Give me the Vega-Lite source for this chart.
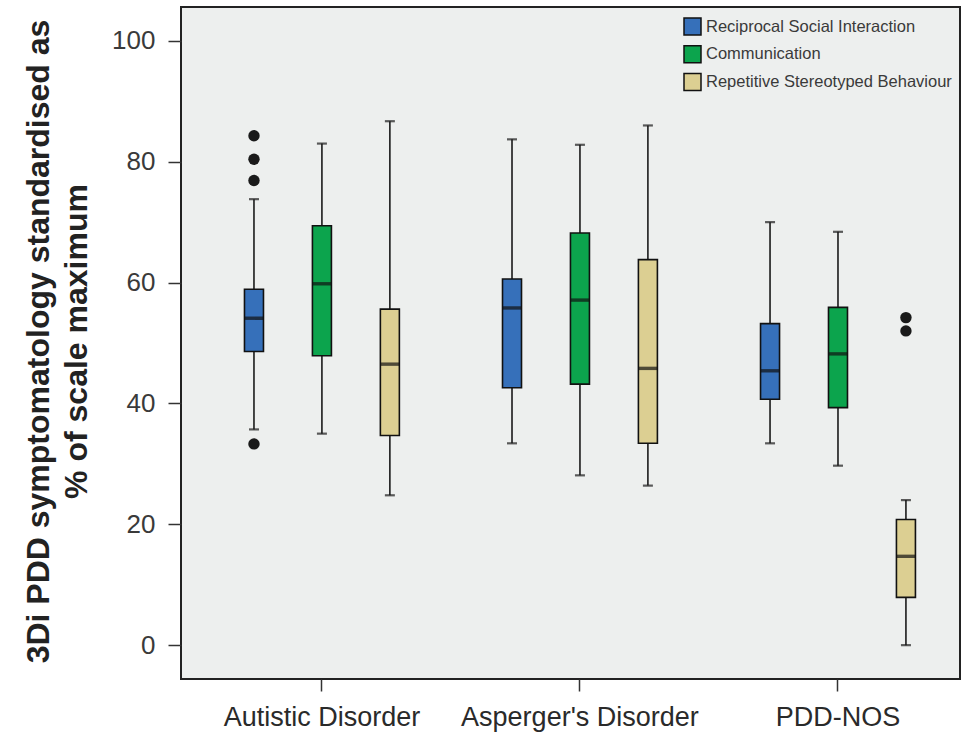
{
  "$schema": "https://vega.github.io/schema/vega-lite/v6.json",
  "width": 779,
  "height": 672,
  "autosize": {"type": "none"},
  "padding": {"left": 181, "top": 7, "right": 2, "bottom": 60},
  "background": "#ffffff",
  "config": {
    "font": "Liberation Sans",
    "view": {"fill": "#EDEFEE", "stroke": "#222222", "strokeWidth": 2},
    "axisY": {
      "grid": false,
      "domain": false,
      "tickSize": 13,
      "tickWidth": 1.5,
      "tickColor": "#333333",
      "labelFontSize": 26,
      "labelColor": "#3a3a3a",
      "labelPadding": 13,
      "titleFontSize": 32,
      "titleFontWeight": "bold",
      "titleColor": "#222222",
      "titleLineHeight": 38,
      "titleAngle": 270,
      "titleAlign": "center",
      "titleBaseline": "bottom",
      "titleX": -126,
      "titleY": 334,
      "titleLimit": 900
    },
    "axisX": {
      "grid": false,
      "domain": false,
      "tickSize": 12,
      "tickWidth": 1.5,
      "tickColor": "#333333",
      "labelFontSize": 27,
      "labelColor": "#2a2a2a",
      "labelPadding": 13,
      "labelAngle": 0,
      "labelLimit": 400,
      "labelOverlap": false
    },
    "legend": {
      "orient": "none",
      "legendX": 502,
      "legendY": 10,
      "padding": 0,
      "symbolType": "square",
      "symbolSize": 289,
      "symbolStrokeColor": "#111111",
      "symbolStrokeWidth": 1.5,
      "labelFontSize": 16.5,
      "labelColor": "#3a3a3a",
      "labelOffset": 4,
      "rowPadding": 4.7,
      "labelLimit": 400
    }
  },
  "datasets": {
    "boxes": [
      {"grp": "Autistic Disorder", "domain": "Reciprocal Social Interaction", "lo": 35.7, "q1": 48.6, "med": 54.1, "q3": 58.9, "hi": 73.8},
      {"grp": "Autistic Disorder", "domain": "Communication", "lo": 35.0, "q1": 47.9, "med": 59.8, "q3": 69.4, "hi": 83.0},
      {"grp": "Autistic Disorder", "domain": "Repetitive Stereotyped Behaviour", "lo": 24.8, "q1": 34.7, "med": 46.5, "q3": 55.6, "hi": 86.7},
      {"grp": "Asperger's Disorder", "domain": "Reciprocal Social Interaction", "lo": 33.4, "q1": 42.6, "med": 55.8, "q3": 60.6, "hi": 83.7},
      {"grp": "Asperger's Disorder", "domain": "Communication", "lo": 28.1, "q1": 43.2, "med": 57.1, "q3": 68.2, "hi": 82.8},
      {"grp": "Asperger's Disorder", "domain": "Repetitive Stereotyped Behaviour", "lo": 26.4, "q1": 33.4, "med": 45.8, "q3": 63.8, "hi": 86.0},
      {"grp": "PDD-NOS", "domain": "Reciprocal Social Interaction", "lo": 33.4, "q1": 40.7, "med": 45.4, "q3": 53.2, "hi": 70.0},
      {"grp": "PDD-NOS", "domain": "Communication", "lo": 29.7, "q1": 39.3, "med": 48.2, "q3": 55.9, "hi": 68.4},
      {"grp": "PDD-NOS", "domain": "Repetitive Stereotyped Behaviour", "lo": 0.0, "q1": 7.9, "med": 14.7, "q3": 20.8, "hi": 24.0}
    ],
    "outliers": [
      {"grp": "Autistic Disorder", "domain": "Reciprocal Social Interaction", "value": 84.3},
      {"grp": "Autistic Disorder", "domain": "Reciprocal Social Interaction", "value": 80.4},
      {"grp": "Autistic Disorder", "domain": "Reciprocal Social Interaction", "value": 76.9},
      {"grp": "Autistic Disorder", "domain": "Reciprocal Social Interaction", "value": 33.3},
      {"grp": "PDD-NOS", "domain": "Repetitive Stereotyped Behaviour", "value": 54.2},
      {"grp": "PDD-NOS", "domain": "Repetitive Stereotyped Behaviour", "value": 52.0}
    ]
  },
  "encoding": {
    "x": {
      "field": "grp",
      "type": "nominal",
      "title": null,
      "sort": ["Autistic Disorder", "Asperger's Disorder", "PDD-NOS"],
      "scale": {"paddingInner": 0.21, "paddingOuter": 0.1145, "align": 0.66}
    },
    "xOffset": {
      "field": "domain",
      "type": "nominal",
      "sort": ["Reciprocal Social Interaction", "Communication", "Repetitive Stereotyped Behaviour"],
      "scale": {"paddingInner": 0, "paddingOuter": 0}
    }
  },
  "layer": [
    {
      "data": {"name": "boxes"},
      "mark": {"type": "rule", "color": "#1a1a1a", "strokeWidth": 1.6},
      "encoding": {
        "y": {
          "field": "lo",
          "type": "quantitative",
          "title": ["3Di PDD symptomatology standardised as", "% of scale  maximum"],
          "scale": {"domain": [-5.6, 105.6], "nice": false, "zero": false},
          "axis": {"values": [0, 20, 40, 60, 80, 100]}
        },
        "y2": {"field": "hi"}
      }
    },
    {
      "data": {"name": "boxes"},
      "mark": {"type": "tick", "color": "#1a1a1a", "size": 10, "thickness": 2.2},
      "encoding": {
        "y": {"field": "lo", "type": "quantitative", "title": ["3Di PDD symptomatology standardised as", "% of scale  maximum"]}
      }
    },
    {
      "data": {"name": "boxes"},
      "mark": {"type": "tick", "color": "#1a1a1a", "size": 10, "thickness": 2.2},
      "encoding": {
        "y": {"field": "hi", "type": "quantitative", "title": ["3Di PDD symptomatology standardised as", "% of scale  maximum"]}
      }
    },
    {
      "data": {"name": "boxes"},
      "mark": {"type": "bar", "size": 19, "stroke": "#111111", "strokeWidth": 1.6, "opacity": 1},
      "encoding": {
        "y": {"field": "q1", "type": "quantitative", "title": ["3Di PDD symptomatology standardised as", "% of scale  maximum"]},
        "y2": {"field": "q3"},
        "fill": {
          "field": "domain",
          "type": "nominal",
          "title": null,
          "scale": {
            "domain": ["Reciprocal Social Interaction", "Communication", "Repetitive Stereotyped Behaviour"],
            "range": ["#3670BA", "#0CA44D", "#DCCF92"]
          }
        }
      }
    },
    {
      "data": {"name": "boxes"},
      "mark": {"type": "tick", "color": "#111111", "size": 19, "thickness": 3.4},
      "encoding": {
        "y": {"field": "med", "type": "quantitative", "title": ["3Di PDD symptomatology standardised as", "% of scale  maximum"]}
      }
    },
    {
      "data": {"name": "outliers"},
      "mark": {"type": "point", "filled": true, "color": "#1a1a1a", "size": 130, "opacity": 1},
      "encoding": {
        "y": {"field": "value", "type": "quantitative", "title": ["3Di PDD symptomatology standardised as", "% of scale  maximum"]}
      }
    }
  ]
}
